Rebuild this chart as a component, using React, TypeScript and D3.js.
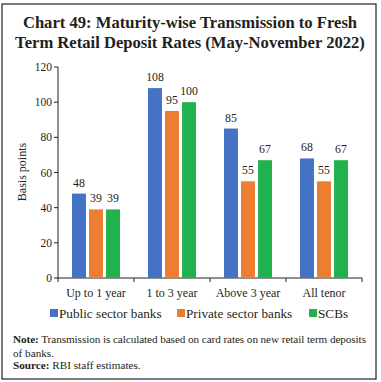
import React from "react";
import * as d3 from "d3";

const categories = ["Up to 1 year", "1 to 3 year", "Above 3 year", "All tenor"];
const seriesNames = ["Public sector banks", "Private sector banks", "SCBs"];
const publicSector = [48, 108, 85, 68];
const privateSector = [39, 95, 55, 55];
const scbs = [39, 100, 67, 67];
const yTicks = [0, 20, 40, 60, 80, 100, 120];
const colors = ["#4472C4", "#ED7D31", "#21B14F"];

const W = 381, H = 382;
const serif = "'Liberation Serif', 'DejaVu Serif', serif";

export default function App() {
  const series = [publicSector, privateSector, scbs];
  const x0 = d3.scaleBand().domain(categories).range([58, 362]).paddingInner(0).paddingOuter(0);
  const x1 = d3.scaleBand().domain(seriesNames).range([14, 62]).paddingInner(0.18);
  const y = d3.scaleLinear().domain([0, 120]).range([278, 67]);
  const legendX = [50, 177, 309];
  return (
    <svg width={W} height={H} style={{ position: "absolute", left: 0, top: 0 }}>
      <rect x={0} y={0} width={W} height={H} fill="#fff" />
      <rect x={2} y={4} width={374} height={375} fill="none" stroke="#222" strokeWidth={1.2} />
      <text x={190} y={28} textAnchor="middle" fontFamily={serif} fontWeight="bold" fontSize={16.6} fill="#231F20">Chart 49: Maturity-wise Transmission to Fresh</text>
      <text x={190} y={48} textAnchor="middle" fontFamily={serif} fontWeight="bold" fontSize={16.6} fill="#231F20">Term Retail Deposit Rates (May-November 2022)</text>
      {/* y axis */}
      <line x1={58} x2={58} y1={y(120)} y2={y(0)} stroke="#222" />
      {yTicks.map(t => (
        <g key={t}>
          <line x1={54} x2={58} y1={y(t)} y2={y(t)} stroke="#222" />
          <text x={52} y={y(t) + 4} textAnchor="end" fontFamily={serif} fontSize={11.5} fill="#231F20">{t}</text>
        </g>
      ))}
      <text transform={`translate(26,172) rotate(-90)`} textAnchor="middle" fontFamily={serif} fontSize={12} fill="#231F20">Basis points</text>
      {/* x axis */}
      <line x1={58} x2={362} y1={y(0)} y2={y(0)} stroke="#222" />
      {[...categories.map(c => x0(c)!), 362].map((v, i) => (
        <line key={i} x1={v} x2={v} y1={y(0)} y2={y(0) + 4} stroke="#222" />
      ))}
      {categories.map((c, ci) => (
        <g key={c}>
          <text x={x0(c)! + x0.bandwidth() / 2} y={297} textAnchor="middle" fontFamily={serif} fontSize={12} fill="#231F20">{c}</text>
          {series.map((s, si) => {
            const bx = x0(c)! + x1(seriesNames[si])!;
            return (
              <g key={si}>
                <rect x={bx} y={y(s[ci])} width={x1.bandwidth()} height={y(0) - y(s[ci])} fill={colors[si]} />
                <text x={bx + x1.bandwidth() / 2} y={y(s[ci]) - 7} textAnchor="middle" fontFamily={serif} fontSize={11.8} fill="#231F20">{s[ci]}</text>
              </g>
            );
          })}
        </g>
      ))}
      {/* legend */}
      {seriesNames.map((n, i) => (
        <g key={n}>
          <rect x={legendX[i]} y={309} width={8} height={8} fill={colors[i]} />
          <text x={legendX[i] + 9} y={317.5} fontFamily={serif} fontSize={13.2} fill="#231F20">{n}</text>
        </g>
      ))}
      <text x={13} y={343} fontFamily={serif} fontSize={11.2} textLength={353} lengthAdjust="spacing" fill="#231F20"><tspan fontWeight="bold">Note:</tspan> Transmission is calculated based on card rates on new retail term deposits</text>
      <text x={13} y={357} fontFamily={serif} fontSize={11.2} fill="#231F20">of banks.</text>
      <text x={13} y={369} fontFamily={serif} fontSize={11.2} fill="#231F20"><tspan fontWeight="bold">Source:</tspan> RBI staff estimates.</text>
    </svg>
  );
}
